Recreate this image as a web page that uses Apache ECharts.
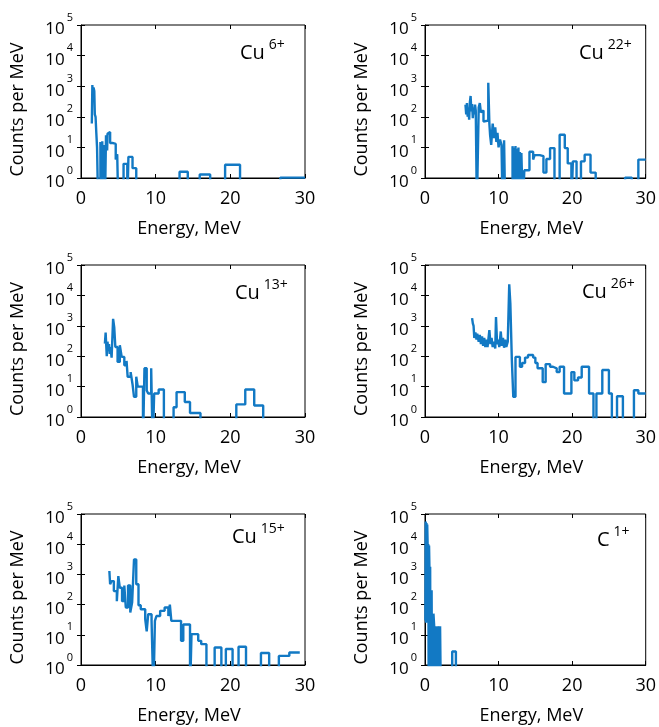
<!DOCTYPE html>
<html>
<head>
<meta charset="utf-8">
<script src="https://cdn.jsdelivr.net/npm/echarts@6/dist/echarts.min.js"></script>
<style>
    html, body { margin: 0; background: #fff; }
    #chart { width: 659px; height: 727px; }
</style>
</head>
<body>
<div id="chart"></div>
<script>
    // bin edges (MeV) and counts per MeV, 0.1 = empty bin (falls below the axis)
    var cu6E = [1.45, 1.52, 1.6, 1.68, 1.78, 1.85, 1.95, 2.05, 2.15, 2.3, 2.6, 2.75, 2.85, 2.95, 3.1, 3.2, 3.35, 3.5, 3.55, 3.75, 3.9, 4.2, 4.45, 4.65, 4.85, 5.0, 5.7, 6.2, 6.35, 6.9, 7.4, 13.2, 14.3, 15.9, 17.3, 19.3, 21.3, 26.7, 30];
    var cu6N = [60, 1100, 350, 900, 700, 120, 100, 30, 10, 0.1, 15, 0.1, 16, 0.1, 12, 0.1, 25, 8, 28, 32, 14, 15, 13, 4, 6, 0.1, 2.9, 0.1, 4.9, 2.1, 0.1, 1.6, 0.1, 1.3, 0.1, 2.7, 0.1, 1.03, 1.03];

    var cu22E = [5.5, 5.6, 5.7, 5.8, 5.9, 6.0, 6.1, 6.2, 6.3, 6.4, 6.5, 6.6, 6.7, 6.8, 6.9, 7.05, 7.3, 7.45, 7.6, 7.8, 7.95, 8.15, 8.6, 8.75, 8.85, 9.0, 9.2, 9.4, 9.55, 9.7, 9.85, 10.0, 10.2, 10.4, 10.55, 10.75, 10.9, 11.9, 12.0, 12.1, 12.2, 12.3, 12.4, 12.5, 12.6, 12.7, 12.8, 12.9, 13.0, 13.1, 13.3, 13.5, 14.2, 14.7, 14.9, 15.6, 16.1, 16.5, 17.0, 17.6, 18.3, 19.0, 19.4, 19.9, 20.1, 20.6, 21.2, 21.7, 22.5, 23.2, 27.2, 28.1, 29.0, 30];
    var cu22N = [250, 120, 280, 100, 200, 80, 300, 480, 150, 260, 90, 200, 120, 250, 160, 0.1, 200, 280, 140, 160, 70, 75, 1300, 60, 25, 12, 60, 20, 45, 15, 30, 10, 18, 12, 0.1, 17, 0.1, 11, 0.1, 10, 0.1, 11, 0.1, 9, 0.1, 10, 0.1, 7, 0.1, 6.6, 0.1, 1.8, 7.2, 4, 5.6, 5.2, 1.5, 4.2, 9.5, 0.1, 26, 9.5, 3, 0.1, 3.5, 0.1, 3.5, 5.8, 1.5, 0.1, 1.03, 0.1, 4, 4];

    var cu13E = [3.2, 3.3, 3.45, 3.55, 3.65, 3.75, 3.85, 3.95, 4.1, 4.3, 4.45, 4.6, 4.9, 5.2, 5.45, 5.8, 6.1, 6.25, 6.65, 6.9, 7.1, 7.4, 7.6, 8.3, 8.5, 8.8, 9.0, 9.4, 9.6, 9.8, 10.4, 11.1, 12.4, 12.8, 13.9, 14.6, 16.0, 20.8, 22.0, 23.2, 24.4];
    var cu13N = [260, 600, 100, 300, 150, 250, 120, 200, 90, 1700, 900, 200, 65, 230, 95, 50, 70, 21, 30, 12, 4.6, 21, 10, 0.1, 40, 7.5, 5.9, 40, 0.1, 5.9, 8, 0.1, 2.1, 6.6, 3.1, 1.35, 0.1, 2.6, 8, 2.4, 0.1];

    var cu26E = [6.4, 6.5, 6.6, 6.7, 6.85, 7.0, 7.1, 7.3, 7.45, 7.6, 7.75, 7.9, 8.05, 8.2, 8.35, 8.5, 8.75, 8.9, 9.05, 9.2, 9.35, 9.55, 9.65, 9.8, 9.95, 10.1, 10.3, 10.45, 10.6, 10.75, 10.9, 11.05, 11.25, 11.45, 11.6, 11.8, 12.0, 12.3, 12.9, 13.2, 13.6, 14.0, 14.7, 15.0, 15.3, 16.0, 16.4, 17.0, 17.4, 17.9, 18.3, 18.9, 19.9, 20.3, 20.8, 21.3, 22.3, 22.9, 23.3, 24.1, 25.0, 25.4, 26.1, 26.9, 28.4, 29.0, 30];
    var cu26N = [1800, 1200, 1000, 400, 600, 350, 550, 300, 500, 250, 450, 220, 400, 200, 350, 200, 720, 250, 400, 200, 300, 180, 1950, 250, 350, 200, 650, 220, 400, 190, 350, 200, 300, 23000, 5500, 80, 4.6, 95, 45, 60, 90, 110, 90, 60, 40, 14, 55, 45, 40, 30, 45, 5.9, 30, 16, 20, 45, 5.9, 0.1, 5.9, 35, 5.9, 0.1, 4.8, 0.1, 7.6, 5.9, 5.9];

    var cu15E = [3.8, 3.9, 4.1, 4.4, 4.8, 5.0, 5.2, 5.5, 5.8, 6.0, 6.3, 6.6, 6.85, 7.1, 7.4, 7.7, 8.0, 8.6, 8.8, 9.0, 9.45, 9.7, 9.9, 10.1, 10.6, 11.2, 11.7, 11.9, 12.1, 13.4, 13.7, 14.6, 14.8, 15.7, 16.1, 16.8, 17.9, 18.8, 19.4, 20.3, 21.1, 22.1, 24.1, 25.2, 26.5, 27.9, 29.3];
    var cu15N = [1300, 470, 600, 280, 130, 880, 360, 130, 430, 80, 430, 55, 120, 3100, 470, 95, 70, 33, 13, 48, 29, 0.1, 29, 42, 62, 80, 42, 100, 29, 6.3, 22, 0.1, 10.5, 6.3, 4.9, 0.1, 3.8, 0.1, 3.4, 0.1, 4, 0.1, 2.5, 0.1, 2.0, 2.6, 2.6];

    var c1E = [0.05, 0.1, 0.15, 0.2, 0.25, 0.3, 0.35, 0.4, 0.45, 0.5, 0.55, 0.6, 0.65, 0.7, 0.75, 0.8, 0.85, 0.9, 0.95, 1.0, 1.1, 1.15, 1.25, 1.3, 1.4, 1.5, 1.55, 1.65, 1.75, 1.85, 1.9, 2.0, 2.05, 2.15, 3.7, 4.2];
    var c1N = [30, 56000, 25, 50000, 30, 45000, 12000, 30, 10000, 0.1, 9000, 1800, 0.1, 1800, 0.1, 300, 0.1, 300, 0.1, 50, 0.1, 50, 19, 0.1, 19, 0.1, 19, 0.1, 19, 0.1, 19, 0.1, 19, 0.1, 2.8, 0.1];

    var xTicks = [0, 10, 20, 30];

    var panels = [
        { el: 'Cu', q: '6+',  e: cu6E,  n: cu6N,  left: 81,  top: 25,  h: 153, tl: 240, tt: 38 },
        { el: 'Cu', q: '22+', e: cu22E, n: cu22N, left: 425, top: 25,  h: 153, tl: 579, tt: 38 },
        { el: 'Cu', q: '13+', e: cu13E, n: cu13N, left: 81,  top: 265, h: 152, tl: 235, tt: 278 },
        { el: 'Cu', q: '26+', e: cu26E, n: cu26N, left: 425, top: 265, h: 152, tl: 582, tt: 277 },
        { el: 'Cu', q: '15+', e: cu15E, n: cu15N, left: 81,  top: 514, h: 151, tl: 232, tt: 522 },
        { el: 'C',  q: '1+',  e: c1E,   n: c1N,   left: 425, top: 514, h: 151, tl: 597, tt: 525 }
    ];

    var font = '"Open Sans", sans-serif';
    var blue = '#1279C4';

    var grid = [], xAxis = [], yAxis = [], series = [], title = [];

    panels.forEach(function (p, i) {
        grid.push({
            left: p.left, top: p.top, width: 224, height: p.h,
            show: true, borderColor: '#000', borderWidth: 1, backgroundColor: '#fff'
        });
        xAxis.push({
            type: 'value', gridIndex: i, min: xTicks[0], max: xTicks[xTicks.length - 1], interval: 10,
            name: 'Energy, MeV', nameLocation: 'middle', nameGap: 42,
            nameTextStyle: { fontFamily: font, fontSize: 18, color: '#000', padding: [0, 8, 0, 0] },
            axisLine: { show: true, lineStyle: { color: '#000', width: 1 } },
            axisTick: { show: true, inside: true, length: 4, lineStyle: { color: '#000' } },
            axisLabel: { fontFamily: font, fontSize: 18, color: '#000', margin: 12 },
            splitLine: { show: false }
        });
        xAxis.push({
            type: 'value', gridIndex: i, position: 'top', min: 0, max: 30, interval: 10,
            axisLine: { show: false },
            axisTick: { show: true, inside: true, length: 4, lineStyle: { color: '#000' } },
            axisLabel: { show: false },
            splitLine: { show: false }
        });
        yAxis.push({
            type: 'log', logBase: 10, gridIndex: i, min: 1, max: 100000,
            name: 'Counts per MeV', nameLocation: 'middle', nameGap: 54,
            nameTextStyle: { fontFamily: font, fontSize: 18, color: '#000', padding: [0, 16, 0, 0] },
            axisLine: { show: true, lineStyle: { color: '#000', width: 1 } },
            axisTick: { show: true, inside: true, length: 4, lineStyle: { color: '#000' } },
            axisLabel: {
                margin: 8,
                formatter: function (v) {
                    return '{m|10}{e|' + Math.round(Math.log10(v)) + '}';
                },
                rich: {
                    m: { fontFamily: font, fontSize: 17, color: '#000', padding: [9, 0, 0, 0] },
                    e: { fontFamily: font, fontSize: 11, color: '#000', padding: [0, 0, 15, 2] }
                }
            },
            splitLine: { show: false }
        });
        yAxis.push({
            type: 'log', logBase: 10, gridIndex: i, position: 'right', min: 1, max: 100000,
            axisLine: { show: false },
            axisTick: { show: true, inside: true, length: 4, lineStyle: { color: '#000' } },
            axisLabel: { show: false },
            splitLine: { show: false }
        });
        series.push({
            type: 'line', step: 'end', showSymbol: false, symbol: 'none',
            xAxisIndex: 2 * i, yAxisIndex: 2 * i,
            lineStyle: { color: blue, width: 2.4 },
            data: p.e.map(function (x, k) { return [x, p.n[k]]; })
        });
        title.push({
            left: p.tl, top: p.tt, padding: 0,
            text: '{a|' + p.el + '}{b|' + p.q + '}',
            textStyle: {
                fontWeight: 'normal',
                rich: {
                    a: { fontFamily: font, fontSize: 20, fontWeight: 'normal', color: '#000', lineHeight: 30 },
                    b: { fontFamily: font, fontSize: 14, fontWeight: 'normal', color: '#000', padding: [0, 0, 16, 4] }
                }
            }
        });
    });

    var myChart = echarts.init(document.getElementById('chart'));
    myChart.setOption({
        animation: false,
        backgroundColor: '#fff',
        title: title,
        grid: grid,
        xAxis: xAxis,
        yAxis: yAxis,
        series: series
    });
</script>
</body>
</html>
